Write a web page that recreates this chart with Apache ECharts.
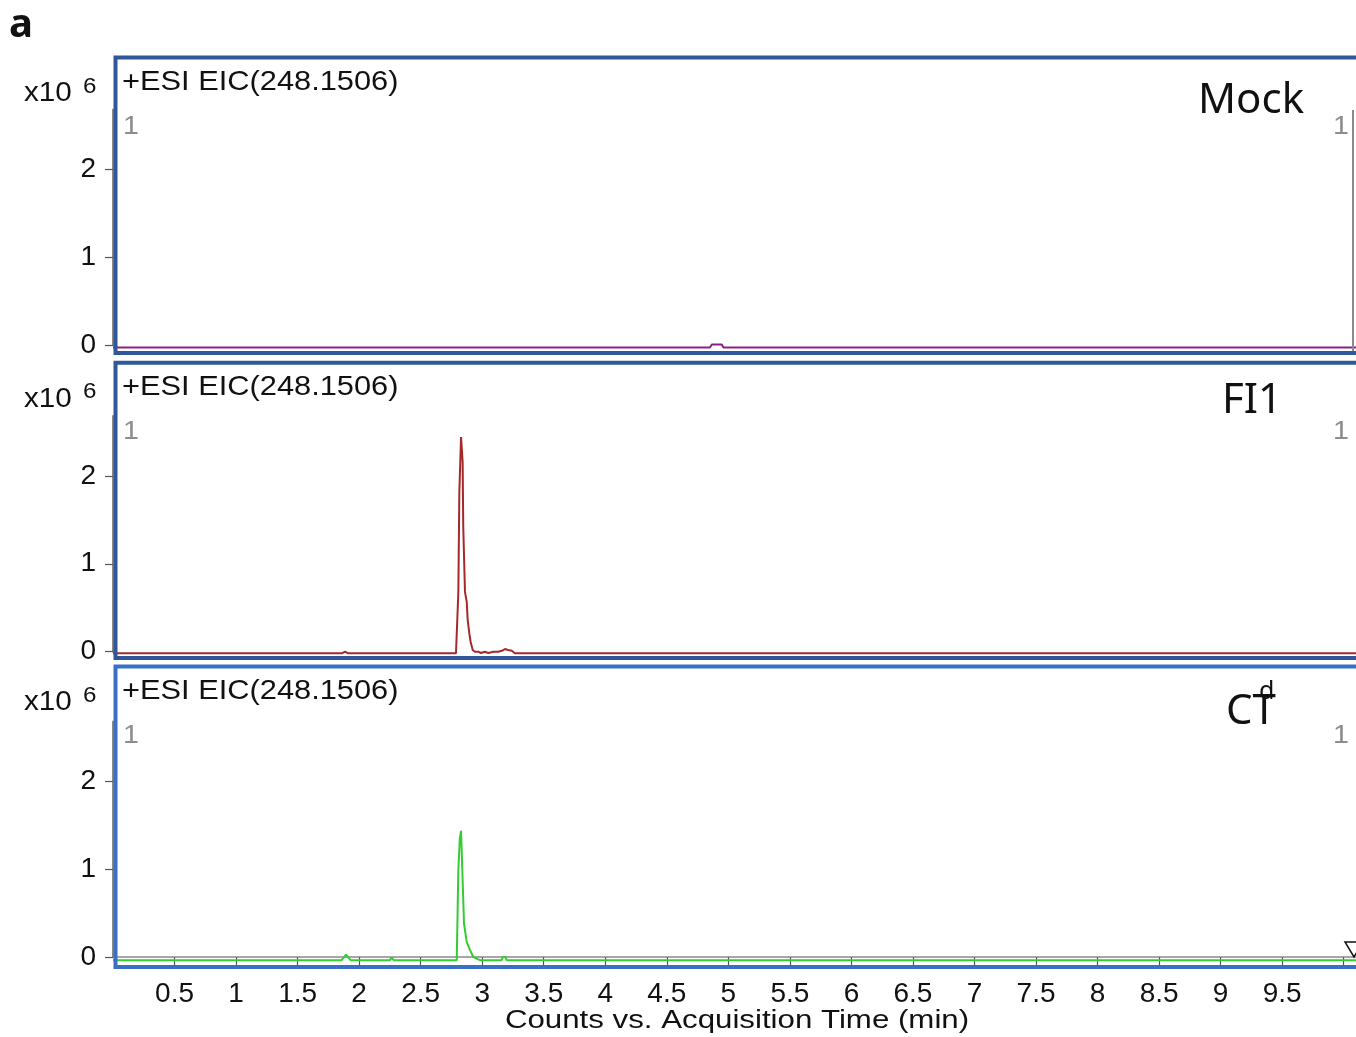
<!DOCTYPE html>
<html>
<head>
<meta charset="utf-8">
<script src="https://cdn.jsdelivr.net/npm/echarts@6/dist/echarts.min.js"></script>
<style>
html,body{margin:0;padding:0;background:#fff;}
#chart{width:1356px;height:1037px;}
</style>
</head>
<body>
<div id="chart"></div>
<script>
// ---- data (time in min, intensity in counts x10^6) ----
const panelNames = ['Mock', 'FI1', 'CT'];
const traceTitle = '+ESI EIC(248.1506)';
const xAxisTitle = 'Counts vs. Acquisition Time (min)';
const xTickValues = [0.5,1,1.5,2,2.5,3,3.5,4,4.5,5,5.5,6,6.5,7,7.5,8,8.5,9,9.5,10];
const xLabelValues = [0.5,1,1.5,2,2.5,3,3.5,4,4.5,5,5.5,6,6.5,7,7.5,8,8.5,9,9.5];
const yTickValues = [0, 1, 2];

const timeMock = [0, 2.25, 2.265, 2.28, 4.85, 4.866, 4.947, 4.96, 10.1];
const valMock  = [-0.026, -0.026, -0.005, -0.026, -0.026, 0.008, 0.008, -0.026, -0.026];

const timeFI1 = [0, 1.86, 1.885, 1.91, 2.25, 2.265, 2.28, 2.787, 2.806, 2.814, 2.828, 2.841, 2.846, 2.860, 2.874, 2.882, 2.895, 2.906, 2.923, 2.941, 2.968, 2.99, 3.02, 3.05, 3.09, 3.13, 3.16, 3.185, 3.21, 3.24, 3.266, 10.1];
const valFI1  = [-0.018, -0.018, 0.0, -0.018, -0.018, -0.005, -0.018, -0.018, 0.67, 1.80, 2.44, 2.16, 1.42, 0.68, 0.57, 0.36, 0.21, 0.11, 0.02, 0.0, 0.0, -0.015, 0.0, -0.015, 0.0, 0.0, 0.01, 0.03, 0.02, 0.01, -0.018, -0.018];

const timeCT = [0, 1.858, 1.893, 1.931, 2.25, 2.265, 2.28, 2.793, 2.806, 2.818, 2.828, 2.841, 2.852, 2.874, 2.901, 2.928, 2.955, 2.982, 3.158, 3.165, 3.19, 3.199, 10.1];
const valCT  = [-0.034, -0.034, 0.03, -0.034, -0.034, -0.005, -0.034, -0.034, 0.99, 1.35, 1.437, 0.876, 0.383, 0.174, 0.08, 0.003, -0.015, -0.034, -0.034, 0.0, 0.0, -0.034, -0.034];

const seriesColors = ['#8b1e8b', '#a5282a', '#33cc33'];
const frameColors = ['#30579a', '#30579a', '#3a6fc6'];

// ---- layout ----
const gridTops = [109.5, 416, 721.5];
const gridH = 235.7;
const frameTops = [57.5, 362.7, 666.5];
const frameBottoms = [353, 658, 967];
const panelLabelY = [101, 401, 712];
const FONT = '"Liberation Sans", Arial, sans-serif';

const zip = (a, b) => a.map((t, i) => [t, b[i]]);
const traces = [zip(timeMock, valMock), zip(timeFI1, valFI1), zip(timeCT, valCT)];

const grids = gridTops.map(t => ({left: 113, right: 0, top: t, height: gridH}));
const xAxes = gridTops.map((t, i) => ({
  type: 'value', gridIndex: i, min: 0, max: 10.1,
  show: i === 2,
  offset: 13,
  splitLine: {show: false},
  axisLine: {show: true, lineStyle: {color: '#8a8a8a', width: 1.5}},
  axisTick: {show: true, length: 8, customValues: xTickValues, lineStyle: {color: '#555', width: 1.2}},
  axisLabel: {show: true, customValues: xLabelValues, margin: 10, fontFamily: FONT, fontSize: 28, color: '#111'}
}));
const yAxes = gridTops.map((t, i) => ({
  type: 'value', gridIndex: i, min: 0, max: 2.68,
  offset: 4,
  splitLine: {show: false},
  axisLine: {show: true, lineStyle: {color: '#8a8a8a', width: 2}},
  axisTick: {show: true, length: 8, customValues: yTickValues, lineStyle: {color: '#555', width: 1.2}},
  axisLabel: {show: true, customValues: yTickValues, margin: 13, fontFamily: FONT, fontSize: 28, color: '#111'}
}));
const series = traces.map((d, i) => ({
  type: 'line', xAxisIndex: i, yAxisIndex: i, data: d,
  showSymbol: false, clip: false, silent: true,
  lineStyle: {color: seriesColors[i], width: 2},
  animation: false
}));

const graphics = [];
graphics.push({type: 'text', left: 9, top: 6, style: {text: 'a', font: 'bold 40px "Noto Sans"', fill: '#111'}});
frameTops.forEach((ft, i) => {
  graphics.push({type: 'rect', z: 50, shape: {x: 115.5, y: ft, width: 1270, height: frameBottoms[i] - ft},
    style: {fill: 'none', stroke: frameColors[i], lineWidth: 4}});
  const off = ft - frameTops[0];
  graphics.push({type: 'text', z: 60, x: 122, y: 82 + off, scaleX: 1.1, style: {text: traceTitle, font: '28px ' + FONT, fill: '#111', textVerticalAlign: 'middle'}});
  graphics.push({type: 'text', z: 60, x: 24, y: 94 + off, scaleX: 1.1, style: {text: 'x10', font: '27px ' + FONT, fill: '#111', textVerticalAlign: 'middle'}});
  graphics.push({type: 'text', z: 60, x: 83, y: 87 + off, scaleX: 1.1, style: {text: '6', font: '22px ' + FONT, fill: '#111', textVerticalAlign: 'middle'}});
  graphics.push({type: 'text', z: 60, x: 123, y: 127 + off, scaleX: 1.1, style: {text: '1', font: '26px ' + FONT, fill: '#8c8c8c', textVerticalAlign: 'middle'}});
  graphics.push({type: 'text', z: 60, x: 1349, y: 127 + off, scaleX: 1.1, style: {text: '1', font: '26px ' + FONT, fill: '#8c8c8c', textAlign: 'right', textVerticalAlign: 'middle'}});
});
graphics.push({type: 'text', z: 60, x: 737, y: 1021, scaleX: 1.25, style: {text: xAxisTitle, font: '25px ' + FONT, fill: '#111', textAlign: 'center', textVerticalAlign: 'middle'}});
graphics.push({type: 'line', z: 55, shape: {x1: 1353, y1: 110, x2: 1353, y2: 351}, style: {stroke: '#8a8a8a', lineWidth: 2}});
graphics.push({type: 'text', z: 60, x: 1198, y: panelLabelY[0], style: {text: panelNames[0], font: '42px "Noto Sans"', fill: '#111', textVerticalAlign: 'middle'}});
graphics.push({type: 'text', z: 60, x: 1222, y: panelLabelY[1], style: {text: panelNames[1], font: '42px "Noto Sans"', fill: '#111', textVerticalAlign: 'middle'}});
graphics.push({type: 'text', z: 60, x: 1226, y: panelLabelY[2], style: {text: panelNames[2], font: '42px "Noto Sans"', fill: '#111', textVerticalAlign: 'middle'}});
graphics.push({type: 'text', z: 61, x: 1259, y: 692, style: {text: 'd', font: '25px "Noto Sans"', fill: '#111', textVerticalAlign: 'middle'}});
graphics.push({type: 'polygon', z: 60, shape: {points: [[1345, 942], [1363, 942], [1354, 957]]}, style: {fill: 'none', stroke: '#111', lineWidth: 1.5}});

const chart = echarts.init(document.getElementById('chart'), null, {renderer: 'canvas'});
chart.setOption({
  animation: false,
  backgroundColor: '#fff',
  grid: grids,
  xAxis: xAxes,
  yAxis: yAxes,
  series: series,
  graphic: graphics
});
</script>
</body>
</html>
